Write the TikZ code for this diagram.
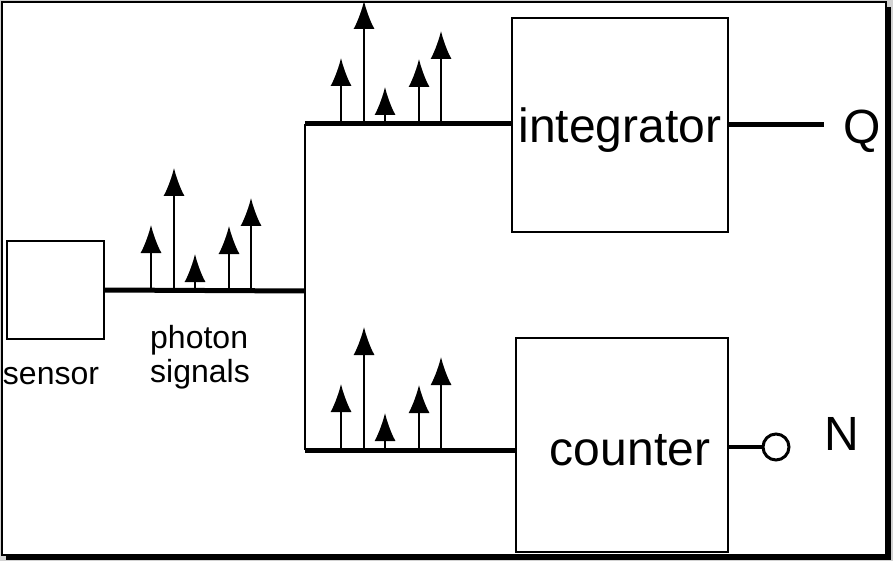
\documentclass[tikz,border=0pt]{standalone}
\usepackage{fontspec}
\setmainfont{Liberation Sans}
\usetikzlibrary{arrows.meta,positioning}

\begin{document}
\begin{tikzpicture}[
  x=1pt,y=-1pt,
  block/.style={draw,line width=1.5pt,inner sep=0pt,text depth=0pt,font=\fontsize{48}{50}\selectfont},
  small/.style={inner sep=0pt,font=\fontsize{32}{34}\selectfont},
  big/.style={inner sep=0pt,font=\fontsize{48}{50}\selectfont},
  bus/.style={line width=5pt},
  pulse/.style={-{Latex[length=28pt,width=21pt]},line width=2pt}
]
% frame with shadow
\fill[gray!35] (0,0) rectangle (893,561);
\fill[black] (6,7) rectangle (891,560);
\filldraw[fill=white,line width=1.5pt] (2,2) rectangle (886,555);
\useasboundingbox (0,0) rectangle (893,561);

\node[block,minimum width=97pt,minimum height=98pt] (sensor) at (55.5,290) {};
\node[block,minimum width=216pt,minimum height=214pt] (integrator) at (620,125) {integrator};
\node[block,minimum width=212pt,minimum height=214pt,text height=40pt] (counter) at (622,445) {\hspace*{16pt}counter};
\node[small,anchor=base] (sensorlabel) at (51,384) {sensor};
\node[small,align=left,anchor=base west] (photonlabel) at (150,382) {photon\\signals};

\coordinate (split) at (305,291);
\coordinate (upjoin) at (305,124);
\coordinate (lowjoin) at (305,450);

% signal lines
\draw[bus] (sensor.east) -- (split);
\draw[line width=2.5pt] (upjoin) -- (lowjoin);
\draw[bus] (upjoin) -- (upjoin -| integrator.west);
\draw[bus] (lowjoin) -- (lowjoin -| counter.west);

% photon pulses
\foreach \px/\py in {151/291,341/124,341/450}
  \foreach \dx/\h in {0/66,23/123,44/37,78/65,100/93}
    \draw[pulse] (\px+\dx,\py) -- ++(0,-\h);

% outputs
\draw[bus] (integrator.east) -- ++(95,0) coordinate (qend);
\node[big,anchor=base west] (q) at (843,144) {Q};
\node[draw,circle,line width=3pt,minimum size=26pt,inner sep=0pt,fill=white] (nout) at (776,447) {};
\draw[line width=4.5pt] (nout.west -| counter.east) -- (nout);
\node[big,anchor=base west] (n) at (824,450) {N};
\end{tikzpicture}
\end{document}
